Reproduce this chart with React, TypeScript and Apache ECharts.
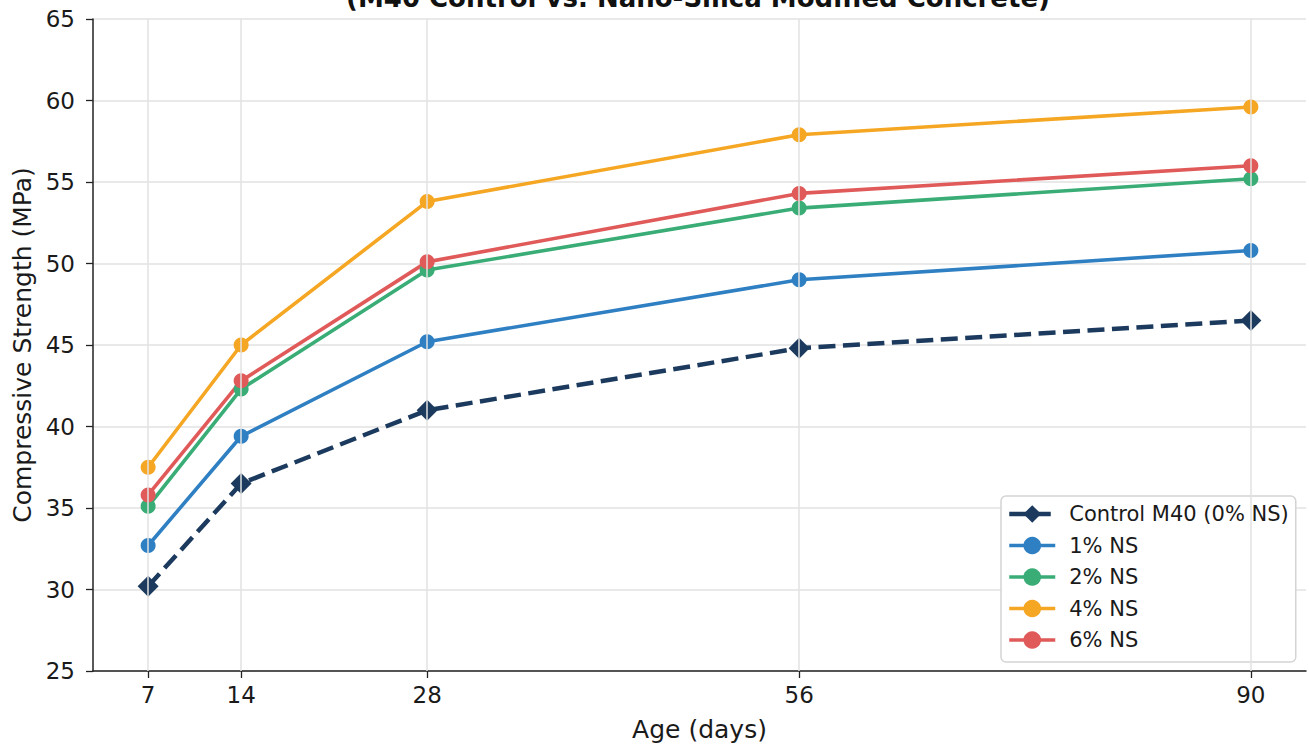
import React, { useEffect, useRef } from "react";
import * as echarts from "echarts";

const ages = [7, 14, 28, 56, 90];
const seriesNames = ["Control M40 (0% NS)", "1% NS", "2% NS", "4% NS", "6% NS"];
const control = [30.2, 36.5, 41.0, 44.8, 46.5];
const ns1 = [32.7, 39.4, 45.2, 49.0, 50.8];
const ns2 = [35.1, 42.3, 49.6, 53.4, 55.2];
const ns4 = [37.5, 45.0, 53.8, 57.9, 59.6];
const ns6 = [35.8, 42.8, 50.1, 54.3, 56.0];
const colors = ["#1b3a5e", "#2f7fc3", "#3aad77", "#f5a623", "#e05a5a"];
const titleText = "(M40 Control vs. Nano-Silica Modified Concrete)";

const FONT = "DejaVu Sans";

export default function App() {
  const ref = useRef<HTMLDivElement>(null);
  useEffect(() => {
    if (!ref.current) return;
    const chart = echarts.init(ref.current, undefined, { renderer: "svg" });
    const allValues = [control, ns1, ns2, ns4, ns6];
    const series: any[] = allValues.map((vals, i) => ({
      name: seriesNames[i],
      type: "line",
      data: ages.map((a, j) => [a, vals[j]]),
      symbol: i === 0 ? "diamond" : "circle",
      symbolSize: i === 0 ? 21 : 15,
      itemStyle: { color: colors[i] },
      lineStyle: { color: colors[i], width: i === 0 ? 4.5 : 3.6, type: i === 0 ? [17, 7.5] : "solid" },
      z: 3,
    }));
    series.push({
      name: "grid-v",
      type: "line",
      data: [],
      silent: true,
      markLine: {
        silent: true,
        symbol: "none",
        label: { show: false },
        lineStyle: { color: "#e2e2e2", width: 1.5, type: "solid" },
        data: ages.map((a) => ({ xAxis: a })),
      },
      z: 1,
    });
    chart.setOption({
      animation: false,
      textStyle: { fontFamily: FONT },
      grid: { left: 93, right: 3, top: 19, bottom: 75 },
      graphic: [
        {
          type: "text",
          x: 698,
          y: -2,
          style: {
            text: titleText,
            font: `bold 26px "${FONT}"`,
            fill: "#111",
            textAlign: "center",
            textVerticalAlign: "middle",
          },
        },
      ],
      xAxis: {
        type: "value",
        min: 2.85,
        max: 94.15,
        name: "Age (days)",
        nameLocation: "middle",
        nameGap: 46,
        nameTextStyle: { fontSize: 25, color: "#1a1a1a", fontFamily: FONT },
        axisLine: { lineStyle: { color: "#222", width: 1.5 } },
        axisTick: { show: true, customValues: ages, length: 7, lineStyle: { color: "#222", width: 1.3 } },
        axisLabel: { customValues: ages, fontSize: 23, color: "#1a1a1a", margin: 12, fontFamily: FONT },
        splitLine: { show: false },
      },
      yAxis: {
        type: "value",
        min: 25,
        max: 65,
        interval: 5,
        name: "Compressive Strength (MPa)",
        nameLocation: "middle",
        nameGap: 58,
        nameTextStyle: { fontSize: 25, color: "#1a1a1a", fontFamily: FONT },
        axisLine: { show: true, lineStyle: { color: "#222", width: 1.5 } },
        axisTick: { show: true, length: 7, lineStyle: { color: "#222", width: 1.3 } },
        axisLabel: { fontSize: 23, color: "#1a1a1a", margin: 18, fontFamily: FONT },
        splitLine: { show: true, lineStyle: { color: "#e2e2e2", width: 1.5 } },
      },
      legend: {
        data: seriesNames.map((n, i) => ({
          name: n,
          lineStyle: { width: i === 0 ? 4.5 : 3.6, type: i === 0 ? [17, 7.5] : "solid" },
        })),
        orient: "vertical",
        left: 1001,
        top: 496,
        padding: [7, 7, 11, 6],
        itemGap: 9.5,
        itemWidth: 46,
        itemHeight: 22,
        backgroundColor: "#fff",
        borderColor: "#d4d4d4",
        borderWidth: 1.5,
        borderRadius: 5,
        textStyle: { fontSize: 21, lineHeight: 22, color: "#1a1a1a", fontFamily: FONT, padding: [0, 0, 0, 9] },
      },
      series,
    });
    return () => chart.dispose();
  }, []);
  return <div ref={ref} style={{ width: 1309, height: 747, position: "absolute", left: 0, top: 0 }} />;
}
